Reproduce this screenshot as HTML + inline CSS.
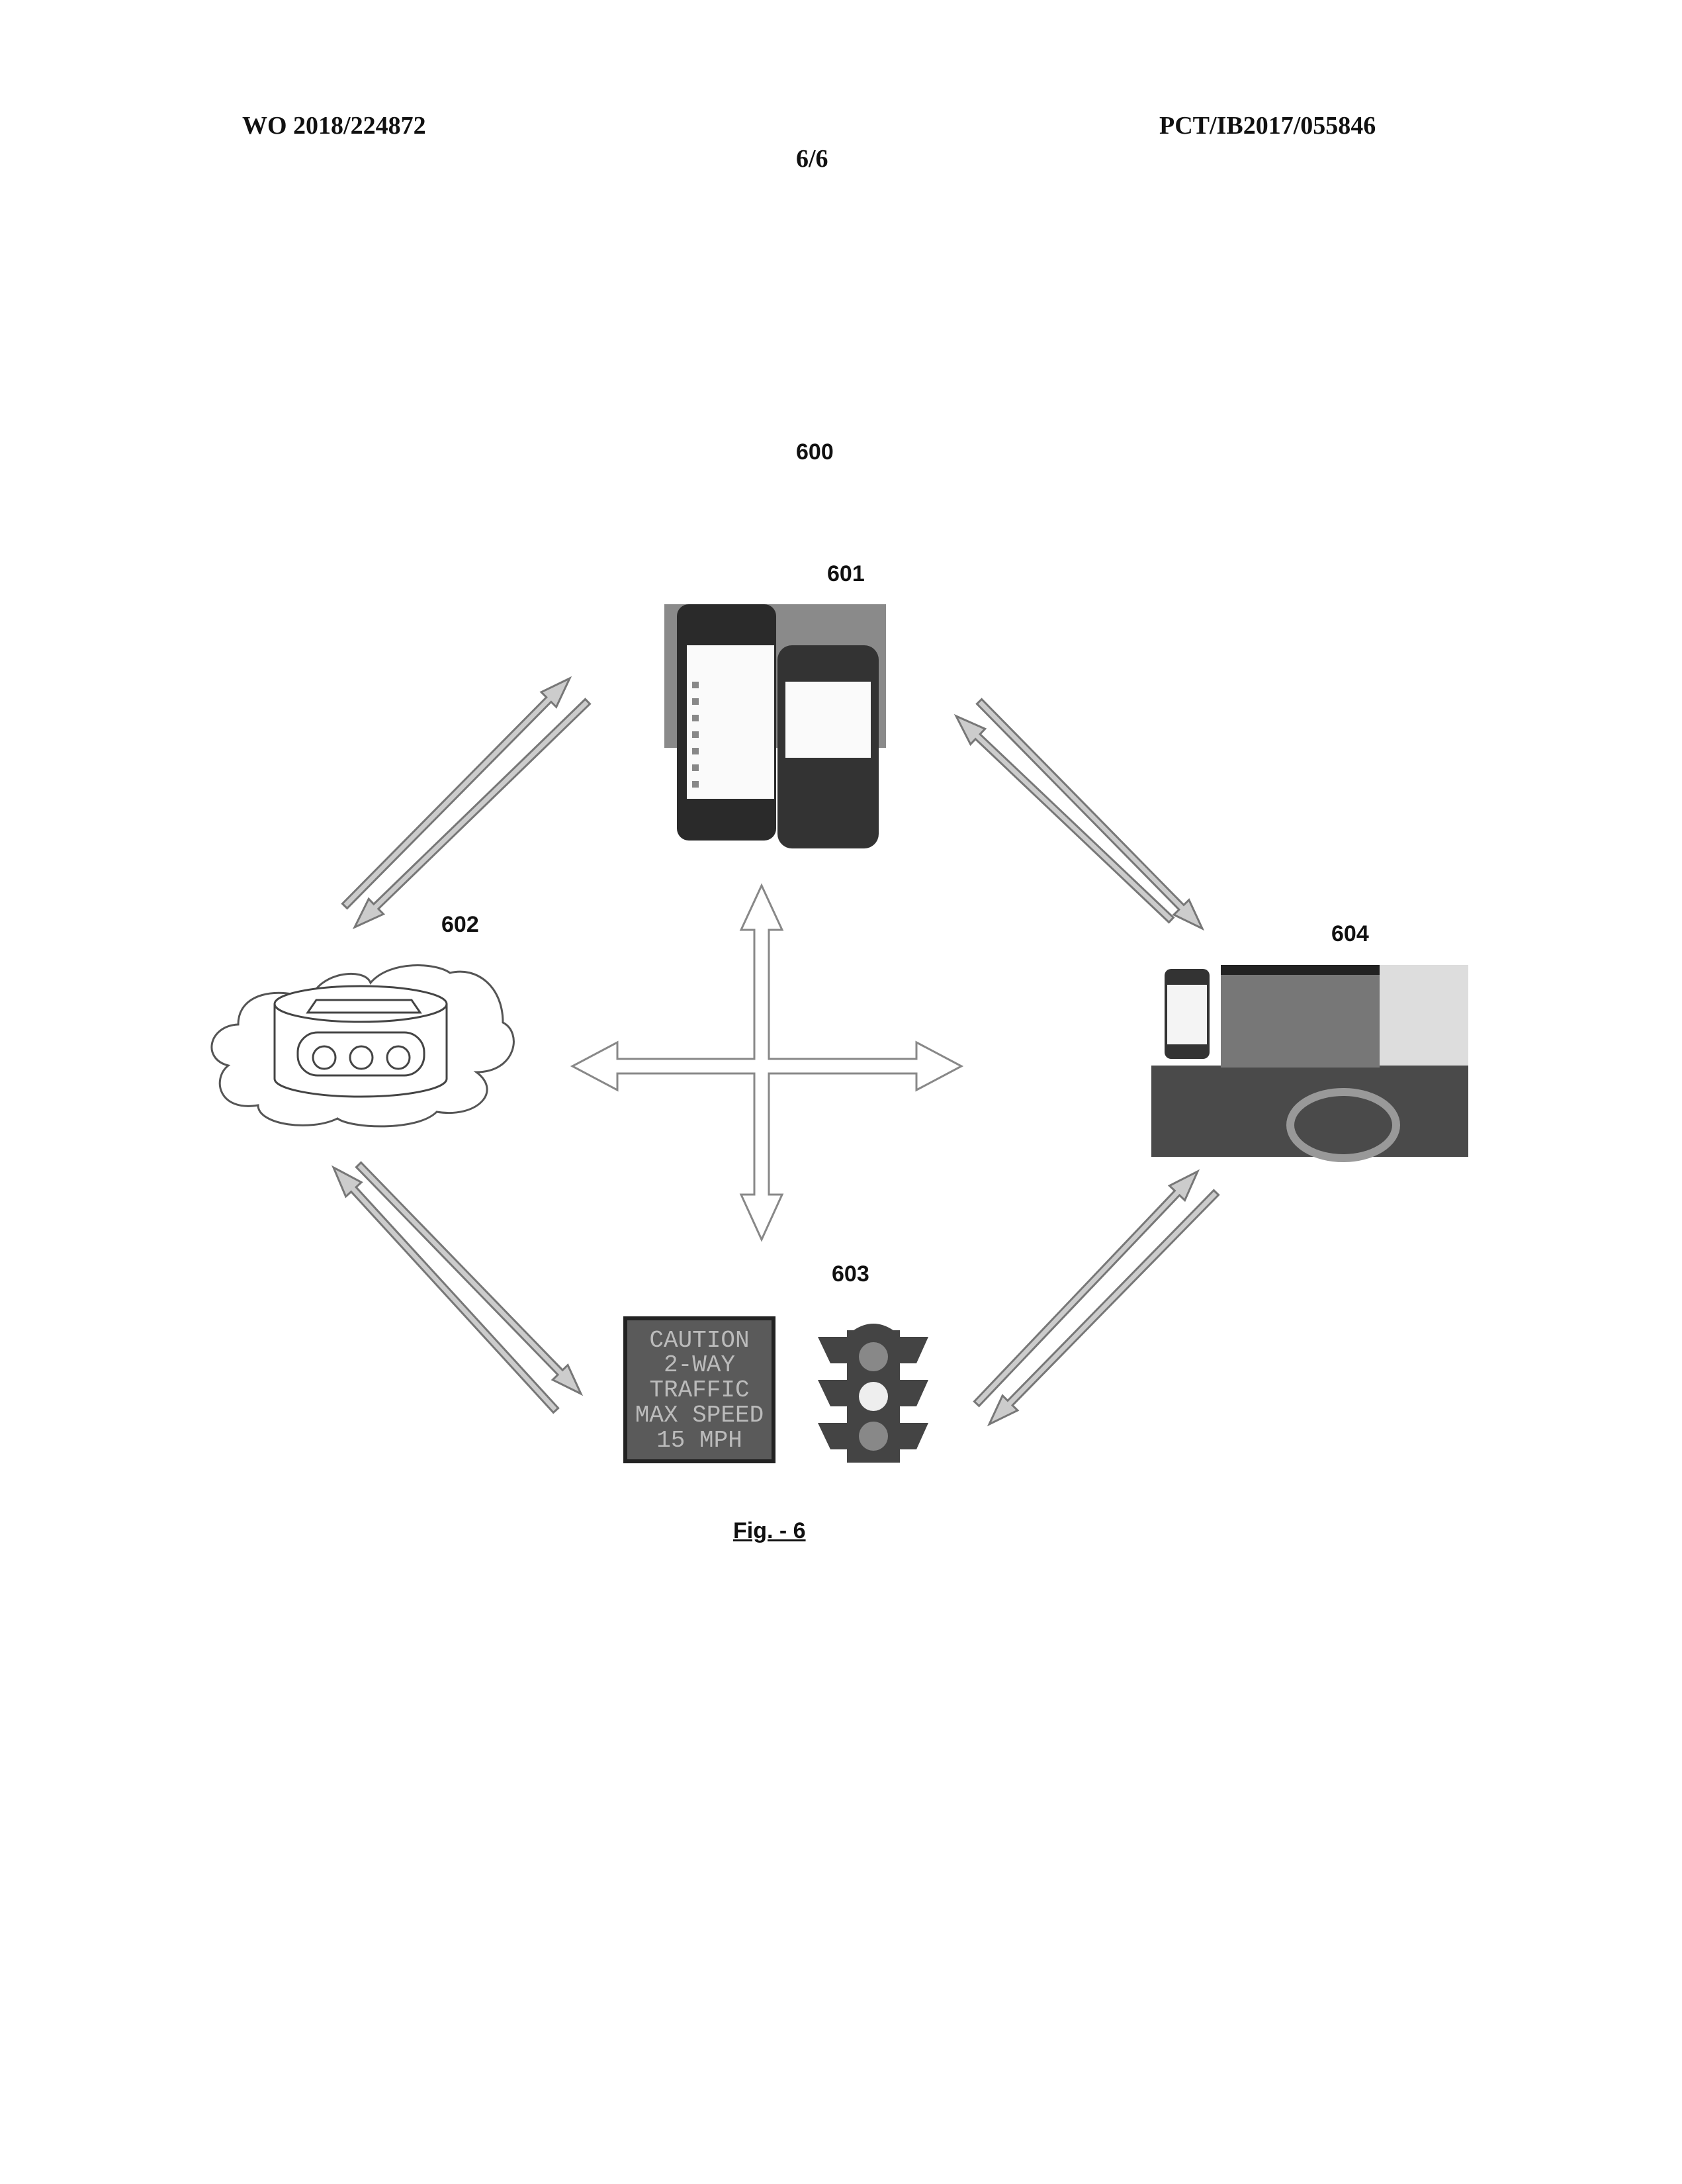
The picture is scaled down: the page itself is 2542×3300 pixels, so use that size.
<!DOCTYPE html>
<html><head><meta charset="utf-8"><style>
html,body{margin:0;padding:0;background:#fff}
body{width:2542px;height:3300px;position:relative;overflow:hidden}
.t{position:absolute;font-family:"Liberation Serif",serif;font-weight:bold;font-size:38px;color:#111}
.l{position:absolute;font-family:"Liberation Sans",sans-serif;font-weight:bold;font-size:34px;color:#111}
</style></head><body>
<div class="t" style="left:366px;top:168px">WO 2018/224872</div>
<div class="t" style="left:1752px;top:168px">PCT/IB2017/055846</div>
<div class="t" style="left:1203px;top:218px">6/6</div>
<div class="l" style="left:1203px;top:664px">600</div>
<div class="l" style="left:1250px;top:848px">601</div>
<div class="l" style="left:667px;top:1378px">602</div>
<div class="l" style="left:2012px;top:1392px">604</div>
<div class="l" style="left:1257px;top:1906px">603</div>
<div class="l" style="left:1108px;top:2294px;text-decoration:underline">Fig. - 6</div>
<svg id="s" width="2542" height="3300" style="position:absolute;left:0;top:0">
<!-- phones -->
<rect x="1004" y="913" width="335" height="217" fill="#8a8a8a"/>
<rect x="1023" y="913" width="150" height="357" rx="18" fill="#2a2a2a"/>
<rect x="1038" y="975" width="132" height="232" fill="#fafafa"/>
<rect x="1175" y="975" width="153" height="307" rx="22" fill="#333"/>
<rect x="1187" y="1030" width="129" height="115" fill="#fafafa"/>
<g fill="#888"><rect x="1046" y="1030" width="10" height="10"/><rect x="1046" y="1055" width="10" height="10"/><rect x="1046" y="1080" width="10" height="10"/><rect x="1046" y="1105" width="10" height="10"/><rect x="1046" y="1130" width="10" height="10"/><rect x="1046" y="1155" width="10" height="10"/><rect x="1046" y="1180" width="10" height="10"/></g>
<!-- cloud -->
<path d="M345,1610 C305,1600 315,1550 360,1548 C360,1500 420,1490 470,1510 C480,1470 550,1460 560,1485 C590,1450 660,1455 680,1470 C720,1460 760,1490 760,1545 C790,1560 780,1620 720,1620 C760,1650 720,1690 660,1680 C630,1710 530,1705 510,1690 C470,1710 390,1700 390,1670 C330,1680 320,1630 345,1610 Z" fill="#fff" stroke="#555" stroke-width="3"/>
<path d="M415,1517 L415,1630 A130,27 0 0 0 675,1630 L675,1517" fill="#fff" stroke="#444" stroke-width="3"/>
<ellipse cx="545" cy="1517" rx="130" ry="27" fill="#fff" stroke="#444" stroke-width="3"/>
<polygon points="478,1511 622,1511 635,1530 465,1530" fill="#fff" stroke="#444" stroke-width="3"/>
<rect x="450" y="1560" width="191" height="65" rx="30" fill="#fff" stroke="#444" stroke-width="3"/>
<circle cx="490" cy="1598" r="17" fill="none" stroke="#444" stroke-width="3"/>
<circle cx="546" cy="1598" r="17" fill="none" stroke="#444" stroke-width="3"/>
<circle cx="602" cy="1598" r="17" fill="none" stroke="#444" stroke-width="3"/>
<!-- car -->
<rect x="1740" y="1610" width="479" height="138" fill="#4a4a4a"/>
<rect x="1845" y="1458" width="240" height="155" fill="#777"/>
<rect x="1845" y="1458" width="240" height="15" fill="#222"/>
<rect x="2085" y="1458" width="134" height="152" fill="#ddd"/>
<ellipse cx="2030" cy="1700" rx="80" ry="50" fill="none" stroke="#999" stroke-width="12"/>
<rect x="1760" y="1464" width="68" height="136" rx="10" fill="#333"/>
<rect x="1764" y="1488" width="60" height="90" fill="#f4f4f4"/>
<!-- sign -->
<rect x="945" y="1992" width="224" height="216" fill="#5a5a5a" stroke="#222" stroke-width="6"/>
<g font-family="Liberation Mono,monospace" font-size="36" fill="#bbb" text-anchor="middle">
<text x="1057" y="2035">CAUTION</text><text x="1057" y="2072">2-WAY</text><text x="1057" y="2110">TRAFFIC</text><text x="1057" y="2148">MAX SPEED</text><text x="1057" y="2186">15 MPH</text></g>
<!-- traffic light -->
<g fill="#444">
<polygon points="1236,2020 1280,2020 1280,2060 1255,2060"/><polygon points="1403,2020 1360,2020 1360,2060 1385,2060"/>
<polygon points="1236,2085 1280,2085 1280,2125 1255,2125"/><polygon points="1403,2085 1360,2085 1360,2125 1385,2125"/>
<polygon points="1236,2150 1280,2150 1280,2190 1255,2190"/><polygon points="1403,2150 1360,2150 1360,2190 1385,2190"/>
<rect x="1280" y="2010" width="80" height="200"/><path d="M1290,2010 Q1320,1990 1350,2010Z"/></g>
<circle cx="1320" cy="2050" r="22" fill="#888"/><circle cx="1320" cy="2110" r="22" fill="#eee"/><circle cx="1320" cy="2170" r="22" fill="#888"/>
<!-- cross -->
<path d="M1151,1338 L1182,1405 L1162,1405 L1162,1600 L1385,1600 L1385,1575 L1453,1611 L1385,1647 L1385,1622 L1162,1622 L1162,1805 L1182,1805 L1151,1873 L1120,1805 L1140,1805 L1140,1622 L933,1622 L933,1647 L865,1611 L933,1575 L933,1600 L1140,1600 L1140,1405 L1120,1405 Z" fill="#fff" stroke="#888" stroke-width="3"/>
<g id="arr"></g>
</svg>
<script>
var A=[[521,1369,861,1025],[888,1060,536,1401],[1770,1390,1445,1082],[1480,1060,1817,1403],[840,2131,504,1764],[542,1760,878,2106],[1476,2121,1810,1770],[1838,1802,1495,2152]];
var g=document.getElementById('arr'),s='';
A.forEach(function(a){var dx=a[2]-a[0],dy=a[3]-a[1],L=Math.hypot(dx,dy),ux=dx/L,uy=dy/L,px=-uy,py=ux,w=5,hw=16,hl=45;
function P(t,o){return (a[0]+ux*t+px*o).toFixed(1)+','+(a[1]+uy*t+py*o).toFixed(1);}
s+='<polygon points="'+[P(0,-w),P(L-hl,-w),P(L-hl,-hw),P(L,0),P(L-hl,hw),P(L-hl,w),P(0,w)].join(' ')+'" fill="#ccc" stroke="#777" stroke-width="3"/>';});
g.innerHTML=s;
</script>
</body></html>
